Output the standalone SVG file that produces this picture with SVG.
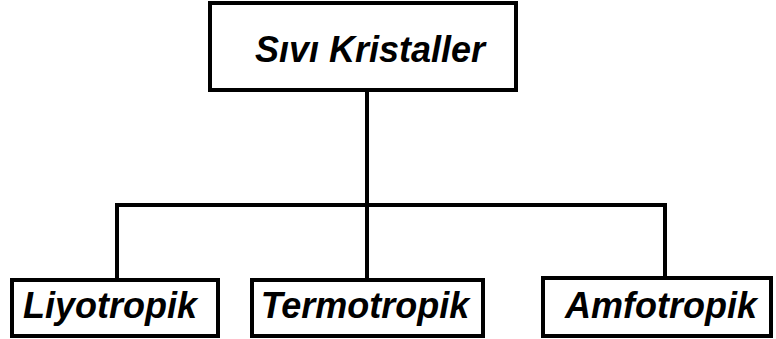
<svg xmlns="http://www.w3.org/2000/svg" width="776" height="339" viewBox="0 0 776 339">
<style>
.box{fill:#fff;stroke:#000;stroke-width:4}
.lbl{font-family:"Liberation Sans",Arial,sans-serif;font-weight:bold;font-style:italic;font-size:36px;fill:#000;text-anchor:middle}
.con{fill:none;stroke:#000;stroke-width:4}
</style>
<rect width="776" height="339" fill="#fff"/>
<g id="connectors">
<path class="con" d="M367 91 V280"/>
<path class="con" d="M117 280 V205 H665 V278"/>
</g>
<g id="root">
<rect class="box" x="210" y="3" width="306" height="87"/>
<text class="lbl" x="370" y="62">Sıvı Kristaller</text>
</g>
<g id="liyotropik">
<rect class="box" x="12" y="280" width="206" height="56"/>
<text class="lbl" x="110" y="318">Liyotropik</text>
</g>
<g id="termotropik">
<rect class="box" x="252" y="280" width="231" height="56"/>
<text class="lbl" x="365" y="318">Termotropik</text>
</g>
<g id="amfotropik">
<rect class="box" x="543" y="278" width="228" height="58"/>
<text class="lbl" x="661" y="318">Amfotropik</text>
</g>
</svg>
